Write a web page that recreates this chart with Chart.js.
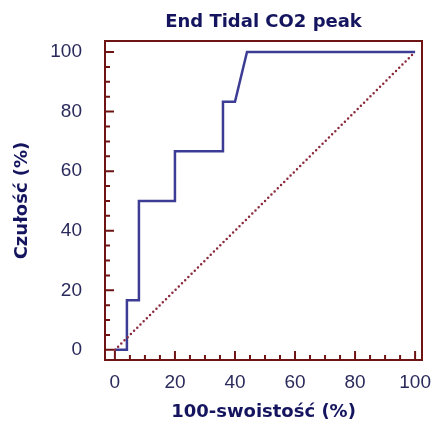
<!DOCTYPE html>
<html>
<head>
<meta charset="utf-8">
<script src="https://cdn.jsdelivr.net/npm/chart.js@4"></script>
<style>
  body { margin: 0; background: #fff; }
</style>
</head>
<body>
<canvas id="rocChart" width="433" height="423"></canvas>
<script>
// dane krzywej ROC
var fpr = [0, 4, 4, 8, 8, 20, 20, 36, 36, 40, 44, 100];
var tpr = [0, 0, 16.7, 16.7, 50, 50, 66.7, 66.7, 83.3, 83.3, 100, 100];
// linia odniesienia
var refX = [0, 100];
var refY = [0, 100];
var tickValues = [0, 20, 40, 60, 80, 100];
var minorValues = [5, 10, 15, 25, 30, 35, 45, 50, 55, 65, 70, 75, 85, 90, 95];

var frameColor = '#6e1414';
var textColor = '#14145f';

// ramka i ząbki skierowane do środka
var framePlugin = {
    id: 'frame',
    beforeDatasetsDraw: function(chart) {
        var ctx = chart.ctx;
        var a = chart.chartArea;
        var xs = chart.scales.x, ys = chart.scales.y;
        ctx.save();
        ctx.strokeStyle = frameColor;
        ctx.lineWidth = 2;
        ctx.strokeRect(a.left, a.top, a.right - a.left, a.bottom - a.top);
        ctx.beginPath();
        tickValues.forEach(function(v) {
            var px = xs.getPixelForValue(v);
            ctx.moveTo(px, a.bottom); ctx.lineTo(px, a.bottom - 9);
            var py = ys.getPixelForValue(v);
            ctx.moveTo(a.left, py); ctx.lineTo(a.left + 9, py);
        });
        minorValues.forEach(function(v) {
            var px = xs.getPixelForValue(v);
            ctx.moveTo(px, a.bottom); ctx.lineTo(px, a.bottom - 5);
            var py = ys.getPixelForValue(v);
            ctx.moveTo(a.left, py); ctx.lineTo(a.left + 5, py);
        });
        ctx.stroke();
        ctx.restore();
    }
};

function keepTicks(scale) {
    scale.ticks = tickValues.map(function(v) { return { value: v }; });
}

var tickFont = { family: '"Liberation Sans", Arial, sans-serif', size: 19 };

var ctx = document.getElementById('rocChart').getContext('2d');
var myChart = new Chart(ctx, {
    type: 'scatter',
    data: {
        datasets: [{
            data: refX.map(function(x, i) { return { x: x, y: refY[i] }; }),
            showLine: true,
            borderColor: '#8a2a3c',
            borderWidth: 2.5,
            borderDash: [0, 4.5],
            borderCapStyle: 'round',
            pointRadius: 0
        }, {
            data: fpr.map(function(x, i) { return { x: x, y: tpr[i] }; }),
            showLine: true,
            borderColor: '#3c3c94',
            borderWidth: 2.5,
            pointRadius: 0
        }]
    },
    options: {
        responsive: false,
        animation: false,
        layout: { padding: { right: 11 } },
        plugins: {
            legend: { display: false },
            tooltip: { enabled: false },
            title: {
                display: true,
                fullSize: false,
                text: 'End Tidal CO2 peak',
                color: textColor,
                font: { family: 'DejaVu Sans', size: 18, weight: 'bold' },
                padding: { top: 12, bottom: 7.4 }
            }
        },
        scales: {
            x: {
                type: 'linear',
                min: -3.3,
                max: 102.3,
                afterBuildTicks: keepTicks,
                afterFit: function(s) { s.height = 63; s.paddingLeft = 0; s.paddingRight = 0; },
                grid: { display: false },
                border: { display: false },
                ticks: {
                    color: '#2a2a5c',
                    padding: 3,
                    maxRotation: 0,
                    font: tickFont
                },
                title: {
                    display: true,
                    text: '100-swoistość (%)',
                    color: textColor,
                    font: { family: 'DejaVu Sans', size: 18, weight: 'bold' },
                    padding: { top: 0, bottom: 0 }
                }
            },
            y: {
                type: 'linear',
                min: -3.4,
                max: 103.7,
                afterBuildTicks: keepTicks,
                afterFit: function(s) { s.width = 105; s.paddingTop = 0; s.paddingBottom = 0; },
                grid: { display: false },
                border: { display: false },
                ticks: {
                    color: '#2a2a5c',
                    padding: 15,
                    font: tickFont
                },
                title: {
                    display: true,
                    text: 'Czułość (%)',
                    color: textColor,
                    font: { family: 'DejaVu Sans', size: 18, weight: 'bold' },
                    padding: { top: 12, bottom: 0 }
                }
            }
        }
    },
    plugins: [framePlugin]
});
</script>
</body>
</html>
